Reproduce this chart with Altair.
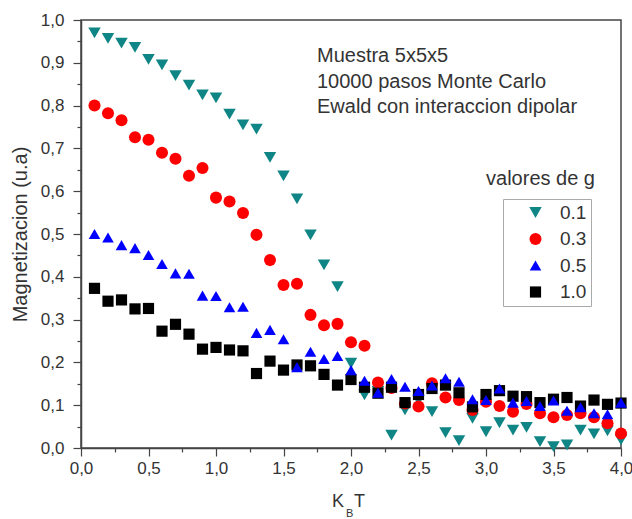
import altair as alt
import pandas as pd

# ---- data ----
temps = [0.1, 0.2, 0.3, 0.4, 0.5, 0.6, 0.7, 0.8, 0.9, 1.0,
         1.1, 1.2, 1.3, 1.4, 1.5, 1.6, 1.7, 1.8, 1.9, 2.0,
         2.1, 2.2, 2.3, 2.4, 2.5, 2.6, 2.7, 2.8, 2.9, 3.0,
         3.1, 3.2, 3.3, 3.4, 3.5, 3.6, 3.7, 3.8, 3.9, 4.0]

m_g01 = [0.970, 0.957, 0.946, 0.936, 0.908, 0.895, 0.870, 0.848, 0.825, 0.818,
         0.780, 0.755, 0.745, 0.679, 0.636, 0.582, 0.498, 0.428, 0.377, 0.198,
         0.124, 0.132, 0.030, 0.089, 0.112, 0.085, 0.036, 0.017, 0.069, 0.038,
         0.059, 0.042, 0.048, 0.015, 0.003, 0.007, 0.042, 0.033, 0.040, 0.019]

m_g03 = [0.800, 0.782, 0.766, 0.726, 0.720, 0.690, 0.676, 0.636, 0.654, 0.585,
         0.576, 0.549, 0.498, 0.439, 0.381, 0.384, 0.311, 0.287, 0.290, 0.247,
         0.239, 0.153, 0.140, 0.104, 0.097, 0.151, 0.118, 0.112, 0.089, 0.108,
         0.098, 0.085, 0.103, 0.081, 0.072, 0.077, 0.081, 0.072, 0.058, 0.034]

m_g05 = [0.500, 0.492, 0.474, 0.467, 0.451, 0.430, 0.408, 0.407, 0.356, 0.355,
         0.329, 0.330, 0.269, 0.276, 0.254, 0.189, 0.225, 0.208, 0.215, 0.182,
         0.157, 0.129, 0.161, 0.143, 0.133, 0.146, 0.163, 0.155, 0.114, 0.112,
         0.139, 0.106, 0.110, 0.098, 0.111, 0.087, 0.095, 0.081, 0.079, 0.106]

m_g10 = [0.373, 0.343, 0.346, 0.325, 0.326, 0.273, 0.289, 0.266, 0.231, 0.235,
         0.229, 0.227, 0.174, 0.203, 0.182, 0.194, 0.192, 0.172, 0.147, 0.160,
         0.142, 0.128, 0.142, 0.106, 0.125, 0.139, 0.147, 0.129, 0.096, 0.125,
         0.134, 0.121, 0.120, 0.106, 0.114, 0.118, 0.098, 0.112, 0.102, 0.105]

g_labels = ["0.1", "0.3", "0.5", "1.0"]
g_colors = ["#0f8585", "#ff0000", "#0000ff", "#000000"]
g_shapes = ["triangle-down", "circle", "triangle-up", "square"]
g_sizes = [155, 125, 155, 95]

annotation_lines = ["Muestra 5x5x5", "10000 pasos Monte Carlo", "Ewald con interaccion dipolar"]
legend_title = "valores de g"
y_title = "Magnetizacion (u.a)"

FONT = "Liberation Sans"
TXT = "#333333"

rows = []
for lab, series in zip(["0.1", "0.3", "1.0", "0.5"], [m_g01, m_g03, m_g10, m_g05]):
    for t, m in zip(temps, series):
        rows.append({"T": t, "M": m, "g": lab})
df = pd.DataFrame(rows)

x_label_expr = ("abs(datum.value*2 - round(datum.value*2)) < 0.001 ? "
                "replace(format(datum.value, '.1f'), '.', ',') : ''")
y_label_expr = ("abs(datum.value*10 - round(datum.value*10)) < 0.001 ? "
                "replace(format(datum.value, '.1f'), '.', ',') : ''")
x_tick_size = {"condition": {"test": "abs(datum.value*2 - round(datum.value*2)) < 0.001", "value": 8}, "value": 4}
y_tick_size = {"condition": {"test": "abs(datum.value*10 - round(datum.value*10)) < 0.001", "value": 8}, "value": 4}

x_vals = [i * 0.25 for i in range(17)]
y_vals = [i * 0.05 for i in range(21)]

points = alt.Chart(df).mark_point(filled=True, opacity=1, strokeWidth=0).encode(
    x=alt.X("T:Q", scale=alt.Scale(domain=[0, 4], nice=False, zero=False),
            axis=alt.Axis(values=x_vals, labelExpr=x_label_expr, tickSize=x_tick_size,
                          title=None, labelFlush=False, labelOverlap=False,
                          labelPadding=4, grid=False)),
    y=alt.Y("M:Q", scale=alt.Scale(domain=[0, 1], nice=False),
            axis=alt.Axis(values=y_vals, labelExpr=y_label_expr, tickSize=y_tick_size,
                          title=y_title, labelFlush=False, labelOverlap=False,
                          labelPadding=9, grid=False, titlePadding=10)),
    color=alt.Color("g:N", scale=alt.Scale(domain=g_labels, range=g_colors),
                    legend=alt.Legend(title=None, orient="none", legendX=422, legendY=179)),
    shape=alt.Shape("g:N", scale=alt.Scale(domain=g_labels, range=g_shapes),
                    legend=alt.Legend(title=None, orient="none", legendX=422, legendY=179)),
    size=alt.Size("g:N", scale=alt.Scale(domain=g_labels, range=g_sizes), legend=None),
)

notes = alt.Chart(pd.DataFrame({"t": ["\n".join(annotation_lines)]})).mark_text(
    align="left", baseline="alphabetic", fontSize=20, font=FONT, color=TXT,
    lineBreak="\n", lineHeight=25.5
).encode(x=alt.value(236), y=alt.value(42), text="t:N")

leg_title = alt.Chart(pd.DataFrame({"t": [legend_title]})).mark_text(
    align="right", baseline="alphabetic", fontSize=20, font=FONT, color=TXT
).encode(x=alt.value(514), y=alt.value(165), text="t:N")

kb_k = alt.Chart(pd.DataFrame({"t": ["K"]})).mark_text(
    align="left", baseline="alphabetic", fontSize=18, font=FONT, color=TXT
).encode(x=alt.value(251), y=alt.value(487), text="t:N")
kb_b = alt.Chart(pd.DataFrame({"t": ["B"]})).mark_text(
    align="left", baseline="alphabetic", fontSize=11, font=FONT, color=TXT
).encode(x=alt.value(265), y=alt.value(497), text="t:N")
kb_t = alt.Chart(pd.DataFrame({"t": ["T"]})).mark_text(
    align="left", baseline="alphabetic", fontSize=18, font=FONT, color=TXT
).encode(x=alt.value(273), y=alt.value(487), text="t:N")

chart = alt.layer(points, notes, leg_title, kb_k, kb_b, kb_t).properties(
    width=540, height=428,
    autosize=alt.AutoSizeParams(type="none"),
    padding={"left": 81, "top": 20, "right": 11, "bottom": 71},
    background="white",
).configure_view(
    stroke="#444444", strokeWidth=1.5
).configure_axis(
    domainColor="#444444", domainWidth=1.5, tickColor="#444444", tickWidth=1.2,
    labelFont=FONT, labelFontSize=17, labelColor=TXT,
    titleFont=FONT, titleFontSize=20, titleFontWeight="normal", titleColor=TXT,
).configure_legend(
    strokeColor="#aaaaaa", fillColor="white", padding=4, symbolOffset=19,
    labelOffset=15, labelFont=FONT, labelFontSize=19, labelColor=TXT,
    symbolSize=64, symbolStrokeWidth=0, rowPadding=6.5, cornerRadius=0,
    labelLimit=40,
)

chart.save("out.html", embed_options={"renderer": "svg", "actions": False})
